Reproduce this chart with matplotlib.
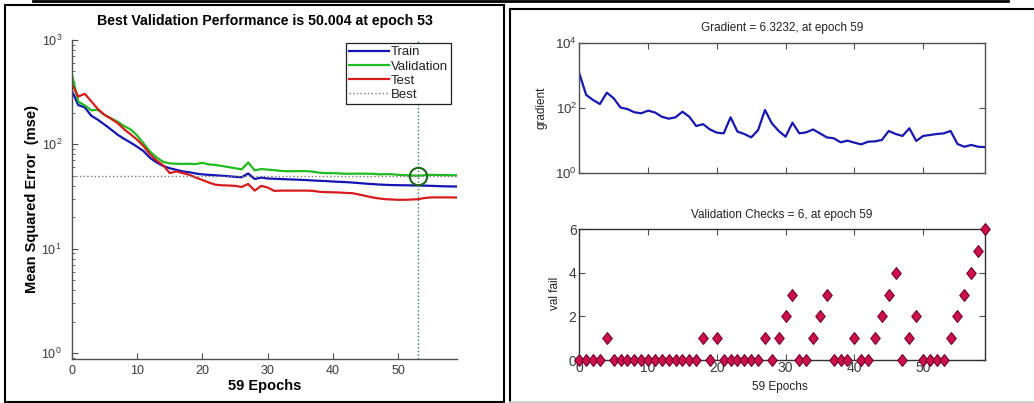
import matplotlib
matplotlib.use("Agg")
import matplotlib.pyplot as plt
from matplotlib.lines import Line2D
from matplotlib.patches import Rectangle
from matplotlib.path import Path
import numpy as np

plt.rcParams['font.family'] = ['Liberation Sans', 'DejaVu Sans']

# ---- training record (59 epochs, epoch 0 .. 59) ----
epochs = list(range(60))

train_mse = [330, 238, 226, 188, 172, 155, 139, 124, 113, 104,
             95, 86, 74, 67, 62, 59, 57, 55, 54, 52.5,
             51.5, 51, 50.5, 50, 49.5, 48.8, 48.4, 52.5, 46.5, 48,
             47, 46.8, 46.5, 46.2, 46, 45.7, 45.4, 45, 44.7, 44.4,
             44, 43.7, 43.4, 43, 42.5, 42, 41.6, 41.2, 40.9, 40.7,
             40.6, 40.5, 40.4, 40.3, 40.2, 40.0, 39.8, 39.6, 39.5, 39.4]

val_mse = [480, 257, 236, 212, 214, 192, 178, 165, 150, 139,
           122, 102, 85, 75, 68, 65.6, 65.2, 64.9, 65.1, 64.7,
           66.5, 64.2, 63.4, 62, 60.5, 59, 57.6, 67, 56.2, 58,
           57.2, 56.6, 55.6, 55.2, 55.3, 55.4, 55.3, 54.6, 53.4, 52.9,
           53.0, 52.6, 52.2, 52.3, 52.4, 52.3, 52.25, 51.6, 51.8, 51.7,
           51.0, 50.6, 50.3, 50.004, 50.6, 51.0, 50.8, 50.7, 50.6, 50.5]

test_mse = [384, 287, 305, 258, 218, 192, 176, 160, 140, 125,
            111, 96, 80, 70, 63, 53, 55, 53, 51, 48,
            45.5, 43, 41, 40.5, 40.3, 40, 39, 41.7, 36, 40,
            38.5, 35.8, 36, 36, 36, 36, 36, 35.8, 35, 34.8,
            34.7, 34.5, 34.2, 34, 33, 32, 31, 30.3, 29.8, 29.6,
            29.4, 29.4, 29.6, 29.8, 30.6, 31, 31, 31, 31, 30.9]

gradient = [1150, 251, 176, 132, 295, 198, 103, 93, 74, 69,
            83, 73, 54, 47, 52, 77, 54, 28, 32, 22,
            17.6, 16.7, 52, 18.9, 16, 12.6, 21, 87, 34, 19.8,
            13.2, 35.6, 16.7, 18, 22, 16.7, 12.6, 11.8, 8.9, 10,
            8.7, 7.7, 9.3, 9.5, 10.5, 19.8, 16, 13.9, 23.9, 9.8,
            13.9, 14.9, 16, 16.7, 19.8, 7.9, 6.5, 7.4, 6.5, 6.3232]

val_fail = [0, 0, 0, 0, 1, 0, 0, 0, 0, 0,
            0, 0, 0, 0, 0, 0, 0, 0, 1, 0,
            1, 0, 0, 0, 0, 0, 0, 1, 0, 1,
            2, 3, 0, 0, 1, 2, 3, 0, 0, 0,
            1, 0, 0, 1, 2, 3, 4, 0, 1, 2,
            0, 0, 0, 0, 1, 2, 3, 4, 5, 6]

best_epoch = 53
best_perf = 50.004
n_epochs = 59

W, H = 1034, 403
fig = plt.figure(figsize=(W / 100, H / 100), dpi=100)
fig.patch.set_facecolor('white')


def fx(px):
    return px / W


def fy(py):
    return (H - py) / H


def axes_px(left, top, right, bottom):
    return fig.add_axes([fx(left), fy(bottom), fx(right) - fx(left), (bottom - top) / H])


tick_col = '#3a3a3a'
spine_col = '#505050'

# ---------------- performance panel ----------------
ax = axes_px(71.7, 40, 457.3, 359)
c_train, c_val, c_test = '#1414b4', '#1fbb1f', '#d81c1c'
ax.semilogy(epochs, train_mse, color=c_train, lw=1.6, label='Train')
ax.semilogy(epochs, val_mse, color=c_val, lw=1.6, label='Validation')
ax.semilogy(epochs, test_mse, color=c_test, lw=1.6, label='Test')
ax.axhline(best_perf, color='#7a7a7a', ls=':', lw=1.0, label='Best')
ax.axvline(best_epoch, color='#3c7c5c', ls=':', lw=1.0)
ax.plot([best_epoch], [best_perf], 'o', mfc='none', mec='#1a6a1a', mew=1.5, ms=12.5)
ax.set_xlim(0, n_epochs)
ax.set_ylim(0.876, 1000)
ax.set_xticks([0, 10, 20, 30, 40, 50])
for s in ['top', 'right']:
    ax.spines[s].set_visible(False)
for s in ['left', 'bottom']:
    ax.spines[s].set_color(spine_col)
    ax.spines[s].set_linewidth(1.0)
ax.tick_params(which='major', direction='in', length=4, width=0.8, colors=spine_col,
               labelcolor=tick_col, labelsize=9)
ax.tick_params(which='minor', direction='in', length=2, width=0.6, colors=spine_col)
ax.tick_params(axis='y', which='major', pad=7)
ax.tick_params(axis='x', which='major', pad=4.5)
leg = ax.legend(loc='upper right', bbox_to_anchor=(0.984, 0.991), fontsize=9.5,
                frameon=True, fancybox=False, framealpha=1, edgecolor='#202020',
                handlelength=3.0, handletextpad=0.15, borderpad=0.25,
                labelspacing=0.15, borderaxespad=0)
leg.get_frame().set_linewidth(0.9)
for t in leg.get_texts():
    t.set_color('#222222')

fig.text(fx(264.5), fy(20.7), 'Best Validation Performance is 50.004 at epoch 53',
         ha='center', va='center', fontsize=10.2, fontweight='bold')
fig.text(fx(264.5), fy(386), '59 Epochs', ha='center', va='center',
         fontsize=10.5, fontweight='bold')
fig.text(fx(32), fy(199), 'Mean Squared Error  (mse)', ha='center', va='center',
         rotation=90, fontsize=10.5, fontweight='bold')

# ---------------- gradient panel ----------------
ag = axes_px(579.3, 42.7, 985, 173.3)
ag.semilogy(epochs, gradient, color='#1818b0', lw=1.6)
ag.set_xlim(0, n_epochs)
ag.set_ylim(1, 1e4)
ag.set_xticks([0, 10, 20, 30, 40, 50])
ag.set_yticks([1, 100, 10000])
ag.yaxis.set_minor_locator(matplotlib.ticker.NullLocator())
ag.tick_params(axis='x', labelbottom=False)
ag.tick_params(direction='in', length=4, width=0.8, colors=spine_col, labelcolor=tick_col,
               top=True, right=True, labelsize=9.5, pad=1.5)
for s in ag.spines.values():
    s.set_color(spine_col)
    s.set_linewidth(1.0)
fig.text(fx(782), fy(28), 'Gradient = 6.3232, at epoch 59', ha='center', va='center',
         fontsize=8.5, color='#222222')
fig.text(fx(542), fy(108), 'gradient', ha='center', va='center', rotation=90,
         fontsize=8.5, color='#222222')

# ---------------- validation check panel ----------------
av = axes_px(579.3, 229.3, 985, 360)
diamond = Path([(0, 1), (0.8, 0), (0, -1), (-0.8, 0), (0, 1)],
               [Path.MOVETO, Path.LINETO, Path.LINETO, Path.LINETO, Path.CLOSEPOLY])
av.plot(epochs, val_fail, ls='none', marker=diamond, ms=8.5, mfc='#d0104a',
        mec='#700030', mew=0.8, clip_on=False, zorder=3)
av.set_xlim(0, n_epochs)
av.set_ylim(0, 6)
av.set_xticks([0, 10, 20, 30, 40, 50])
av.set_yticks([0, 2, 4, 6])
av.tick_params(direction='in', length=4, width=0.8, colors=spine_col, labelcolor=tick_col,
               top=True, right=True, labelsize=10)
av.tick_params(axis='x', pad=1.0)
av.tick_params(axis='y', pad=2)
for s in av.spines.values():
    s.set_color('#303030')
    s.set_linewidth(1.0)
fig.text(fx(782), fy(215), 'Validation Checks = 6, at epoch 59', ha='center', va='center',
         fontsize=8.5, color='#222222')
fig.text(fx(555), fy(293), 'val fail', ha='center', va='center', rotation=90,
         fontsize=8.5, color='#222222')
fig.text(fx(780), fy(387), '59 Epochs', ha='center', va='center',
         fontsize=8.5, color='#222222')

# ---------------- panel frames ----------------
tf = fig.transFigure
fig.add_artist(Line2D([fx(33), fx(1008)], [fy(1), fy(1)], color='black', lw=2.0, transform=tf))
fig.add_artist(Rectangle((fx(5), fy(401.5)), fx(504) - fx(5), (401.5 - 5) / H,
                         fill=False, ec='black', lw=1.5, transform=tf))
fig.add_artist(Line2D([fx(510), fx(1034)], [fy(9), fy(9)], color='black', lw=1.5, transform=tf))
fig.add_artist(Line2D([fx(510), fx(510)], [fy(9), fy(403)], color='black', lw=1.5, transform=tf))
fig.add_artist(Line2D([fx(510), fx(1034)], [fy(402), fy(402)], color='#c8c8c8', lw=1.2,
                      transform=tf))

fig.savefig('out.png', dpi=100)
